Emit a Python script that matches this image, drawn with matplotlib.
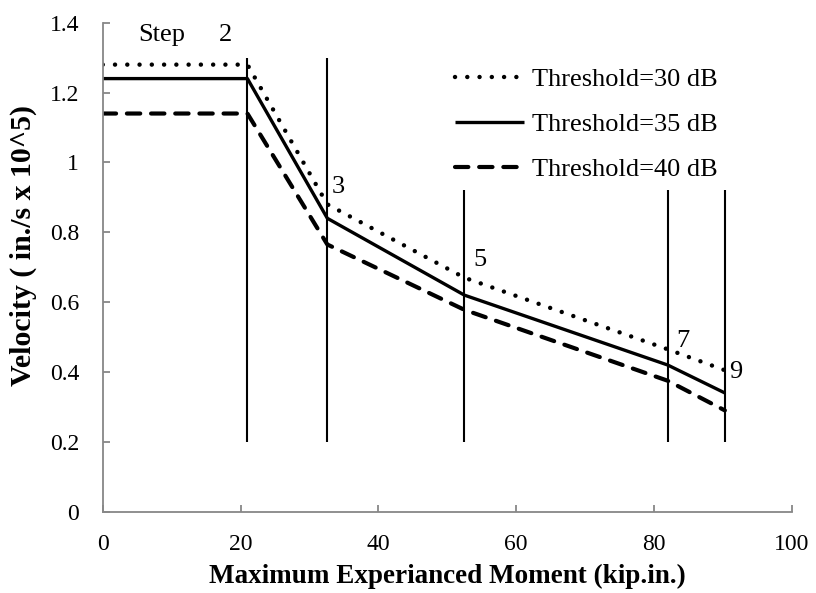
import matplotlib
matplotlib.use('Agg')
import matplotlib.pyplot as plt

plt.rcParams['font.family'] = ['Liberation Serif', 'DejaVu Serif']

# moment at each loading step (kip.in.)
moment = [0, 21, 32.6, 52.5, 82, 90.3]
# velocity for each AE threshold (in./s x 10^5)
vel_30 = [1.28, 1.28, 0.88, 0.67, 0.465, 0.405]
vel_35 = [1.24, 1.24, 0.84, 0.62, 0.42, 0.34]
vel_40 = [1.14, 1.14, 0.765, 0.578, 0.375, 0.29]

# step markers
step_x = [21, 32.6, 52.5, 82, 90.3]
step_top = [1.30, 1.30, 0.92, 0.92, 0.92]
step_bottom = 0.2
step_labels = ['2', '3', '5', '7', '9']
step_label_pos = [(16.9, 1.365), (33.3, 0.93), (53.8, 0.72), (83.2, 0.49), (90.9, 0.40)]

fig = plt.figure(figsize=(8.16, 5.93), dpi=100)
ax = fig.add_axes([0.1259, 0.1371, 0.8443, 0.8246])

ax.vlines(step_x, step_bottom, step_top, colors='black', linewidth=1.5)

ax.plot(moment, vel_30, color='black', linewidth=3.2,
        linestyle=(0, (0.01, 2.75)), dash_capstyle='round',
        solid_capstyle='round', label='Threshold=30 dB')
ax.plot(moment, vel_35, color='black', linewidth=2.4,
        solid_capstyle='butt', label='Threshold=35 dB')
ax.plot(moment, vel_40, color='black', linewidth=3.0,
        linestyle=(0, (3.2, 2.6)), dash_capstyle='round',
        label='Threshold=40 dB')

for lab, (tx, ty) in zip(step_labels, step_label_pos):
    ax.text(tx, ty, lab, fontsize=19, va='center', ha='left')
ax.text(5.1, 1.365, 'Step', fontsize=19, va='center', ha='left')

ax.set_xlim(0, 100)
ax.set_ylim(0, 1.4)
ax.set_xticks([0, 20, 40, 60, 80, 100])
ax.set_yticks([0, 0.2, 0.4, 0.6, 0.8, 1.0, 1.2, 1.4])
ax.set_yticklabels(['0', '0.2', '0.4', '0.6', '0.8', '1', '1.2', '1.4'])

# excel-like axes
for s in ['top', 'right']:
    ax.spines[s].set_visible(False)
for s in ['left', 'bottom']:
    ax.spines[s].set_color('#878787')
    ax.spines[s].set_linewidth(1.3)
ax.tick_params(direction='in', length=5, width=1.3, color='#878787',
               labelsize=17)
ax.tick_params(axis='y', pad=17)
ax.tick_params(axis='x', pad=16)

ax.set_xlabel('Maximum Experianced Moment (kip.in.)', fontsize=19.5,
              fontweight='bold')
ax.set_ylabel('Velocity ( in./s x 10^5)', fontsize=21.5, fontweight='bold')
ax.xaxis.set_label_coords(0.5, -0.107)
ax.yaxis.set_label_coords(-0.095, 0.545)

leg = ax.legend(loc='upper left', bbox_to_anchor=(0.512, 0.908),
                frameon=False, fontsize=19, handlelength=2.6,
                handletextpad=0.3, labelspacing=0.82, borderpad=0,
                borderaxespad=0)

fig.savefig('out.png', dpi=100)
